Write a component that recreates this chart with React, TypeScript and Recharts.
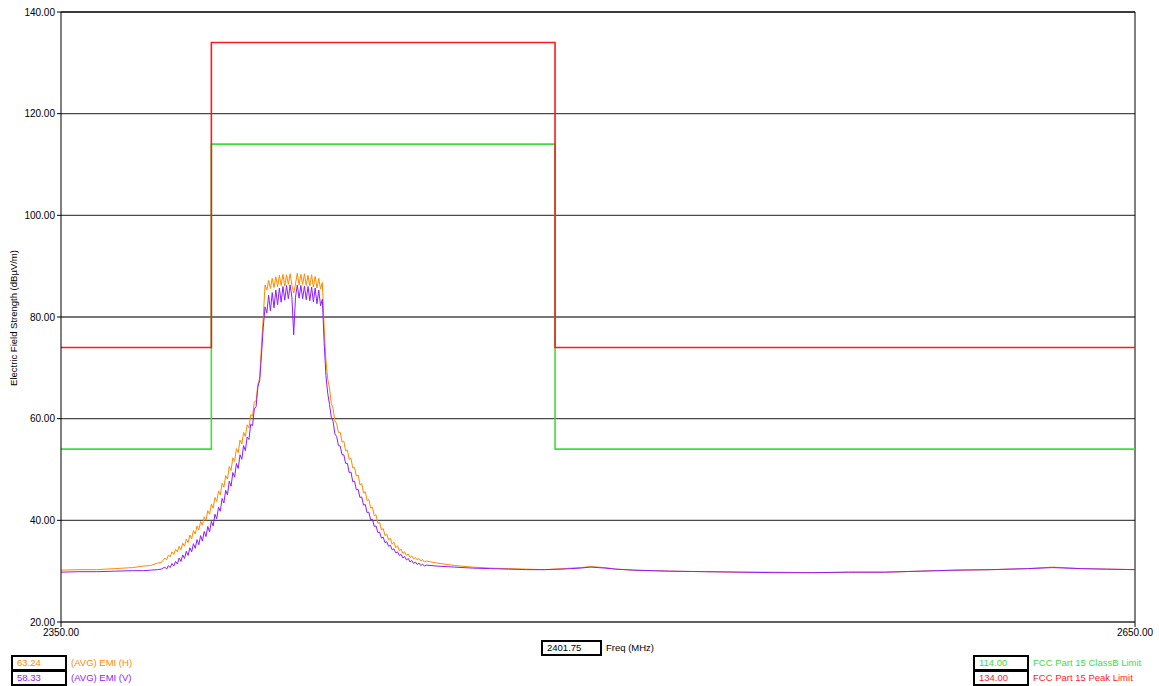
import React from 'react';
import { LineChart, Line, XAxis, YAxis, CartesianGrid, ReferenceLine } from 'recharts';

// Frequency points (MHz) of the two EMI sweeps
const emiFreq = [
  2350, 2355, 2360, 2365, 2370, 2373, 2375, 2377, 2378,
  2379, 2379.5, 2380, 2380.5, 2381, 2381.5, 2382, 2382.5, 2383, 2383.5,
  2384, 2384.5, 2385, 2385.5, 2386, 2386.5, 2387, 2387.5, 2388, 2388.5,
  2389, 2389.5, 2390, 2390.5, 2391, 2391.5, 2392, 2392.5, 2393, 2393.5,
  2394, 2394.5, 2395, 2395.5, 2396, 2396.5, 2397, 2397.5, 2398, 2398.5,
  2399, 2399.5, 2400, 2400.5, 2401, 2401.5, 2402, 2402.5, 2403, 2403.5,
  2404, 2404.5, 2405, 2405.5, 2406, 2406.5, 2407, 2407.5, 2408, 2408.5,
  2409, 2409.5, 2410, 2410.5, 2411, 2411.5, 2412, 2412.5, 2413, 2413.5,
  2414, 2414.5, 2415, 2415.5, 2416, 2416.5, 2417, 2417.5, 2418, 2418.5,
  2419, 2419.5, 2420, 2420.5, 2421, 2421.5, 2422, 2422.5, 2423, 2423.5,
  2424, 2424.5, 2425, 2425.5, 2426, 2426.5, 2427, 2427.5, 2428, 2428.5,
  2429, 2429.5, 2430, 2430.5, 2431, 2431.5, 2432, 2432.5, 2433, 2433.5,
  2434, 2434.5, 2435, 2435.5, 2436, 2436.5, 2437, 2437.5, 2438, 2438.5,
  2439, 2439.5, 2440, 2440.5, 2441, 2441.5, 2442, 2442.5, 2443, 2443.5,
  2444, 2444.5, 2445, 2445.5, 2446, 2446.5, 2447, 2447.5, 2448, 2448.5,
  2449, 2449.5, 2450, 2450.5, 2451, 2451.5, 2452,
  2455, 2460, 2465, 2470, 2475, 2480, 2485, 2490, 2495, 2498, 2502, 2505, 2510, 2520,
  2530, 2540, 2550, 2560, 2570, 2580, 2590, 2600, 2610, 2620, 2627, 2635, 2642, 2650,
];

// (AVG) EMI (H), dBµV/m
const emiH = [
  30.2, 30.3, 30.3, 30.5, 30.7, 31.0, 31.1, 31.6, 31.7,
  32.6, 32.2, 33.2, 32.8, 33.8, 33.3, 34.3, 33.8, 34.9, 34.2,
  35.5, 34.9, 36.3, 35.6, 37.1, 36.4, 38.0, 37.3, 38.9, 38.1,
  39.8, 39.0, 40.7, 40.0, 41.9, 41.2, 43.2, 42.4, 44.5, 43.7,
  45.8, 45.0, 47.3, 46.5, 48.8, 48.1, 50.6, 49.8, 52.3, 51.6,
  54.1, 53.3, 55.8, 55.0, 57.3, 56.5, 58.8, 58.2, 60.8, 60.5,
  63.3, 63.5, 66.8, 68.0, 74.5, 80.0, 86.3, 85.3, 87.2, 85.6,
  87.6, 85.8, 87.9, 86.0, 88.2, 86.2, 88.4, 86.1, 88.3, 86.4,
  88.5, 86.2, 84.7, 86.5, 88.6, 86.3, 88.4, 86.4, 88.5, 86.2,
  88.2, 86.1, 88.3, 85.9, 88.0, 85.7, 87.6, 85.5, 86.8, 78.0,
  71.5, 67.8, 66.0, 63.0, 62.0, 59.6, 59.0, 57.3, 57.3, 55.4,
  55.6, 53.7, 53.8, 52.0, 52.2, 50.3, 50.4, 48.7, 48.9, 47.0,
  47.2, 45.4, 45.6, 43.9, 44.1, 42.4, 42.6, 40.9, 41.1, 39.4,
  39.6, 38.1, 38.4, 37.0, 37.3, 36.1, 36.5, 35.3, 35.7, 34.6,
  35.0, 34.0, 34.3, 33.5, 33.8, 33.1, 33.4, 32.7, 33.0, 32.4,
  32.7, 32.2, 32.5, 32.0, 32.3, 31.8, 32.0,
  31.6, 31.1, 30.8, 30.6, 30.5, 30.4, 30.3, 30.5, 30.7, 30.9, 30.7, 30.4, 30.2, 30.0,
  29.9, 29.8, 29.8, 29.7, 29.8, 29.8, 30.0, 30.2, 30.3, 30.5, 30.8, 30.5, 30.4, 30.3,
];

// (AVG) EMI (V), dBµV/m
const emiV = [
  29.8, 29.9, 29.9, 30.0, 30.1, 30.1, 30.2, 30.3, 30.4,
  30.8, 30.4, 31.1, 30.7, 31.5, 31.0, 31.9, 31.4, 32.6, 31.9,
  33.2, 32.5, 33.9, 33.1, 34.6, 33.8, 35.4, 34.5, 36.2, 35.2,
  37.0, 35.9, 37.8, 36.8, 38.8, 37.7, 39.8, 38.9, 41.2, 40.3,
  42.6, 41.8, 44.3, 43.4, 45.9, 45.0, 47.7, 46.7, 49.4, 48.5,
  51.2, 50.2, 52.9, 52.0, 54.7, 53.7, 56.4, 55.9, 58.9, 58.6,
  61.9, 62.4, 66.3, 67.5, 72.5, 78.0, 82.0, 80.8, 84.3, 81.2,
  84.8, 81.8, 85.3, 82.4, 85.7, 82.9, 86.0, 83.3, 86.2, 83.6,
  86.3, 83.8, 76.5, 83.9, 86.3, 83.7, 86.2, 83.6, 86.1, 83.4,
  86.0, 83.2, 85.9, 83.0, 85.7, 82.6, 85.3, 82.2, 83.5, 75.0,
  68.5, 65.0, 62.8, 60.3, 59.5, 57.0, 56.5, 54.7, 54.6, 52.9,
  52.9, 51.2, 51.2, 49.4, 49.5, 47.6, 47.7, 46.0, 46.1, 44.5,
  44.6, 43.0, 43.1, 41.5, 41.6, 40.1, 40.2, 38.8, 38.9, 37.6,
  37.7, 36.5, 36.7, 35.6, 35.8, 34.9, 35.1, 34.2, 34.4, 33.6,
  33.8, 33.1, 33.3, 32.6, 32.9, 32.2, 32.5, 31.8, 32.1, 31.5,
  31.8, 31.3, 31.6, 31.1, 31.4, 31.0, 31.2,
  31.0, 30.8, 30.6, 30.5, 30.4, 30.3, 30.3, 30.4, 30.6, 30.8, 30.6, 30.4, 30.2, 30.0,
  29.9, 29.8, 29.7, 29.7, 29.8, 29.8, 30.0, 30.2, 30.3, 30.5, 30.7, 30.5, 30.4, 30.3,
];

// FCC Part 15 limits (step lines)
const limitFreq = [2350, 2392, 2392, 2488, 2488, 2650];
const peakLimit = [74, 74, 134, 134, 74, 74];
const classBLimit = [54, 54, 114, 114, 54, 54];

const yTicks = [20, 40, 60, 80, 100, 120, 140];
const xTicks = [2350, 2650];

const ORANGE = '#ff8a00';
const PURPLE = '#8f1cff';
const RED = '#ff1a1a';
const GREEN = '#3ede3e';
const FONT = '"Liberation Sans", Arial, sans-serif';

const hData = emiFreq.map((f, i) => ({ f, v: emiH[i] }));
const vData = emiFreq.map((f, i) => ({ f, v: emiV[i] }));
const peakData = limitFreq.map((f, i) => ({ f, v: peakLimit[i] }));
const classBData = limitFreq.map((f, i) => ({ f, v: classBLimit[i] }));

const ValueBox = ({ left, top, width, color, value }: { left: number; top: number; width: number; color: string; value: string }) => (
  <div
    style={{
      position: 'absolute', left, top, width, height: 16, boxSizing: 'border-box',
      border: '2px solid #000', background: '#fff', color, fontSize: 9.5,
      lineHeight: '12px', paddingLeft: 4,
    }}
  >
    {value}
  </div>
);

const Caption = ({ left, top, color, text }: { left: number; top: number; color: string; text: string }) => (
  <div style={{ position: 'absolute', left, top, color, fontSize: 9.5, lineHeight: '16px', whiteSpace: 'nowrap' }}>{text}</div>
);

const App = () => {
  const tick = { fill: '#000', fontSize: 10, fontFamily: FONT };
  return (
    <div style={{ position: 'absolute', left: 0, top: 0, width: 1159, height: 686, background: '#fff', fontFamily: FONT, overflow: 'hidden' }}>
      <LineChart width={1159} height={686} margin={{ top: 12, right: 24, bottom: 34, left: 8 }}>
        <CartesianGrid vertical={false} stroke="#4a4a4a" strokeWidth={1.3} />
        <XAxis
          dataKey="f"
          type="number"
          domain={[2350, 2650]}
          ticks={xTicks}
          tickFormatter={(v: number) => v.toFixed(2)}
          tick={tick}
          tickSize={5}
          tickMargin={2}
          height={30}
          axisLine={{ stroke: '#4a4a4a' }}
          tickLine={{ stroke: '#000' }}
          allowDataOverflow
        />
        <YAxis
          type="number"
          domain={[20, 140]}
          ticks={yTicks}
          tickFormatter={(v: number) => v.toFixed(2)}
          tick={tick}
          tickSize={4}
          tickMargin={2}
          width={53}
          axisLine={{ stroke: '#000' }}
          tickLine={{ stroke: '#000' }}
          allowDataOverflow
        />
        <ReferenceLine y={140} stroke="#000" />
        <ReferenceLine x={2650} stroke="#000" />
        <Line data={classBData} dataKey="v" type="linear" stroke={GREEN} strokeWidth={1.6} dot={false} isAnimationActive={false} />
        <Line data={peakData} dataKey="v" type="linear" stroke={RED} strokeWidth={1.6} dot={false} isAnimationActive={false} />
        <Line data={hData} dataKey="v" type="linear" stroke={ORANGE} strokeWidth={1} dot={false} isAnimationActive={false} />
        <Line data={vData} dataKey="v" type="linear" stroke={PURPLE} strokeWidth={1} dot={false} isAnimationActive={false} />
      </LineChart>

      <div
        style={{
          position: 'absolute', left: 13, top: 318, fontSize: 9.5, color: '#000', whiteSpace: 'nowrap',
          transform: 'translate(-50%, -50%) rotate(-90deg)',
        }}
      >
        Electric Field Strength (dBµV/m)
      </div>

      <ValueBox left={11} top={655} width={56} color={ORANGE} value="63.24" />
      <ValueBox left={11} top={670} width={56} color={PURPLE} value="58.33" />
      <Caption left={71} top={655} color={ORANGE} text="(AVG) EMI (H)" />
      <Caption left={71} top={670} color={PURPLE} text="(AVG) EMI (V)" />

      <ValueBox left={541} top={640} width={61} color="#000" value="2401.75" />
      <Caption left={606} top={640} color="#000" text="Freq (MHz)" />

      <ValueBox left={973} top={655} width={56} color={GREEN} value="114.00" />
      <ValueBox left={973} top={670} width={56} color={RED} value="134.00" />
      <Caption left={1033} top={655} color={GREEN} text="FCC Part 15 ClassB Limit" />
      <Caption left={1033} top={670} color={RED} text="FCC Part 15 Peak Limit" />
    </div>
  );
};

export default App;
